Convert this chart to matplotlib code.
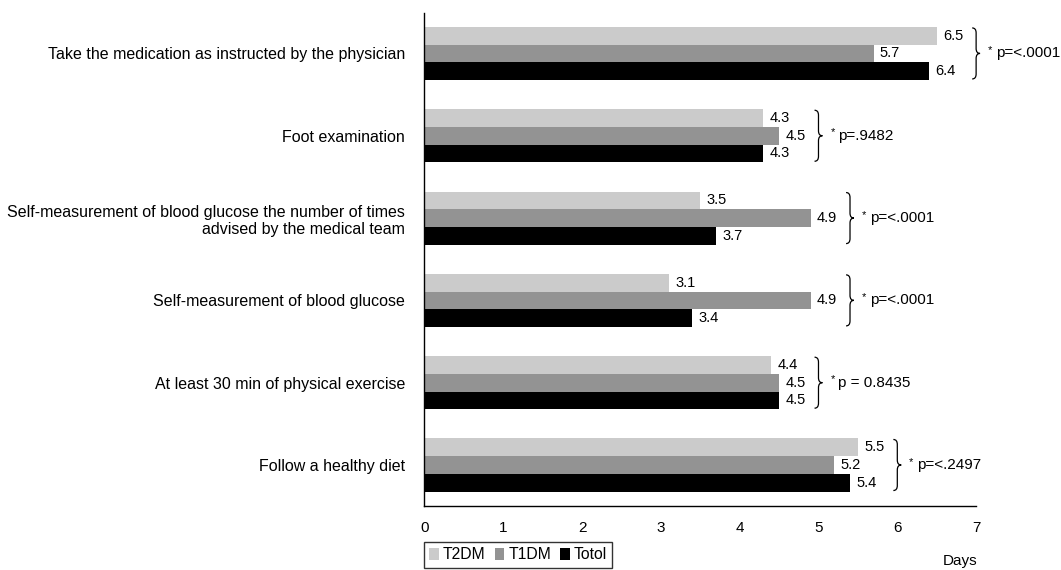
import matplotlib.pyplot as plt
import numpy as np
from matplotlib.path import Path
from matplotlib.patches import PathPatch

plt.rcParams["font.family"] = ["Liberation Sans", "DejaVu Sans"]
plt.rcParams["font.size"] = 11

# Self-care activities (days per week)
activities = [
    "Take the medication as instructed by the physician",
    "Foot examination",
    "Self-measurement of blood glucose the number of times\nadvised by the medical team",
    "Self-measurement of blood glucose",
    "At least 30 min of physical exercise",
    "Follow a healthy diet",
]
t2dm = [6.5, 4.3, 3.5, 3.1, 4.4, 5.5]
t1dm = [5.7, 4.5, 4.9, 4.9, 4.5, 5.2]
total = [6.4, 4.3, 3.7, 3.4, 4.5, 5.4]
p_values = ["p=<.0001", "p=.9482", "p=<.0001", "p=<.0001",
            "p = 0.8435", "p=<.2497"]
series_names = ["T2DM", "T1DM", "Totol"]
colors = ["#cbcbcb", "#939393", "#000000"]


def draw_brace(ax, x, y0, y1, w):
    """Right-pointing curly brace from y0 to y1 at x."""
    ym = (y0 + y1) / 2
    s = np.sign(y1 - y0) * 0.06
    verts = [
        (x, y0), (x + w / 2, y0), (x + w / 2, y0 + s),
        (x + w / 2, ym - s),
        (x + w / 2, ym), (x + w, ym),
        (x + w / 2, ym), (x + w / 2, ym + s),
        (x + w / 2, y1 - s),
        (x + w / 2, y1), (x, y1),
    ]
    codes = [Path.MOVETO, Path.CURVE3, Path.CURVE3,
             Path.LINETO,
             Path.CURVE3, Path.CURVE3,
             Path.CURVE3, Path.CURVE3,
             Path.LINETO,
             Path.CURVE3, Path.CURVE3]
    ax.add_patch(PathPatch(Path(verts, codes), fill=False, lw=0.9,
                           edgecolor="black", clip_on=False))


fig = plt.figure(figsize=(10.61, 5.70), dpi=100)
ax = fig.add_axes([0.4, 0.112, 0.52, 0.865])

pos = np.arange(len(activities))
bar_h = 0.215
offsets = [-bar_h, 0, bar_h]

for vals, off, col, name in zip([t2dm, t1dm, total], offsets, colors, series_names):
    bars = ax.barh(pos + off, vals, height=bar_h, color=col, label=name)
    for b, v in zip(bars, vals):
        ax.annotate(f"{v:.1f}", (v, b.get_y() + b.get_height() / 2),
                    xytext=(4.5, 0), textcoords="offset points",
                    ha="left", va="center", fontsize=10.5)

# Significance braces with p-values
for i, p in enumerate(p_values):
    top = max(t2dm[i], t1dm[i], total[i])
    bx = top + 0.45
    draw_brace(ax, bx, i - 0.31, i + 0.31, 0.1)
    ax.text(bx + 0.2, i - 0.04, "*", ha="left", va="center", fontsize=8)
    ax.text(bx + 0.3, i, p, ha="left", va="center", fontsize=11)

ax.set_xlim(0, 7)
ax.set_ylim(5.5, -0.49)
ax.set_xticks(range(8))
ax.set_yticks(pos)
ax.set_yticklabels(activities, fontsize=11.5)
ax.tick_params(axis="both", length=0)
ax.tick_params(axis="x", pad=11, labelsize=11)
ax.tick_params(axis="y", pad=14)
for side in ["top", "right"]:
    ax.spines[side].set_visible(False)
for side in ["left", "bottom"]:
    ax.spines[side].set_linewidth(1.0)

leg = fig.legend(loc="upper left", bbox_to_anchor=(424 / 1061, 1 - 542 / 570),
                 ncol=3, frameon=True, fancybox=False, edgecolor="black",
                 handlelength=0.6, handleheight=0.8, handletextpad=0.25,
                 columnspacing=0.6, borderpad=0.35, borderaxespad=0,
                 fontsize=11.3)
leg.get_frame().set_linewidth(1.0)

fig.text(960 / 1061, 1 - 561 / 570, "Days", ha="center", va="center", fontsize=11)

fig.savefig("out.png", dpi=100)
